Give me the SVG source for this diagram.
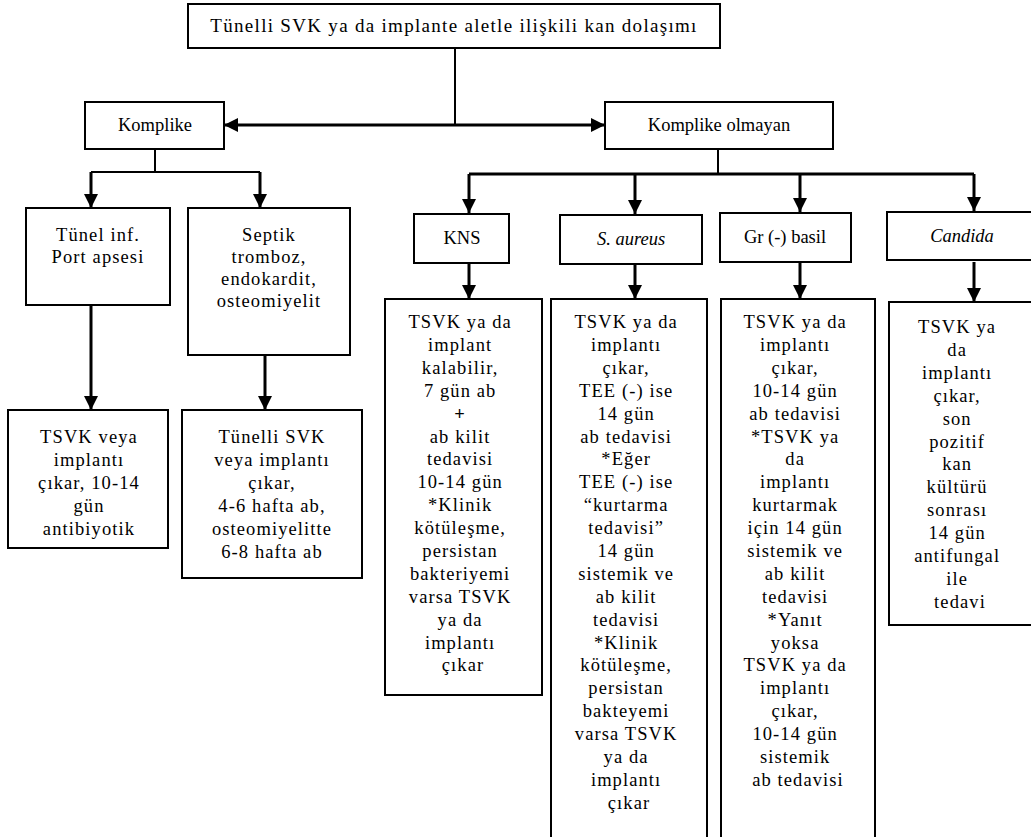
<svg xmlns="http://www.w3.org/2000/svg" width="1031" height="837" viewBox="0 0 1031 837">
<style>
.box{fill:#fff;stroke:#000;stroke-width:2}
.t{font-family:'Liberation Serif','DejaVu Serif',serif;font-size:18.5px;letter-spacing:1.1px;fill:#000;text-anchor:middle}
.ttl{font-family:'Liberation Serif','DejaVu Serif',serif;font-size:19px;letter-spacing:1.3px;fill:#000;text-anchor:middle}
.h{font-family:'Liberation Serif','DejaVu Serif',serif;font-size:18.5px;fill:#000;text-anchor:middle}
.ln{fill:none;stroke:#000;stroke-width:2}
.ar{fill:none;stroke:#000;stroke-width:3}
</style>
<defs>
<marker id="ah" markerUnits="userSpaceOnUse" markerWidth="16" markerHeight="16" refX="14" refY="7" orient="auto-start-reverse" viewBox="0 0 16 14">
<path d="M0,0 L14,7 L0,14 Z" fill="#000"/>
</marker>
</defs>
<g id="connectors">
<line class="ln" x1="455" y1="48" x2="455" y2="125"/>
<line class="ar" x1="224" y1="125" x2="605" y2="125" marker-start="url(#ah)" marker-end="url(#ah)"/>
<line class="ln" x1="155" y1="149" x2="155" y2="172"/>
<polyline class="ln" points="91,172 260,172"/>
<line class="ar" x1="91" y1="172" x2="91" y2="208" marker-end="url(#ah)"/>
<line class="ar" x1="260" y1="172" x2="260" y2="208" marker-end="url(#ah)"/>
<line class="ar" x1="91" y1="305" x2="91" y2="410" marker-end="url(#ah)"/>
<line class="ar" x1="265" y1="355" x2="265" y2="410" marker-end="url(#ah)"/>
<line class="ln" x1="718" y1="149" x2="718" y2="174"/>
<line class="ar" x1="469" y1="174" x2="974" y2="174"/>
<line class="ar" x1="469" y1="174" x2="469" y2="213" marker-end="url(#ah)"/>
<line class="ar" x1="635" y1="174" x2="635" y2="214" marker-end="url(#ah)"/>
<line class="ar" x1="800" y1="174" x2="800" y2="212" marker-end="url(#ah)"/>
<line class="ar" x1="974" y1="174" x2="974" y2="211" marker-end="url(#ah)"/>
<line class="ar" x1="469" y1="263" x2="469" y2="299" marker-end="url(#ah)"/>
<line class="ar" x1="635" y1="264" x2="635" y2="299" marker-end="url(#ah)"/>
<line class="ar" x1="800" y1="262" x2="800" y2="299" marker-end="url(#ah)"/>
<line class="ar" x1="974" y1="262" x2="974" y2="302" marker-end="url(#ah)"/>
</g>
<g id="title">
<rect class="box" x="188" y="4" width="532" height="44"/>
<text class="ttl" x="454" y="32">Tünelli SVK ya da implante aletle ilişkili kan dolaşımı</text>
</g>
<g id="komplike">
<rect class="box" x="85" y="102" width="139" height="47"/>
<text class="h" x="155" y="131">Komplike</text>
</g>
<g id="komplike-olmayan">
<rect class="box" x="605" y="102" width="228" height="47"/>
<text class="h" x="719" y="131">Komplike olmayan</text>
</g>
<g id="tunel">
<rect class="box" x="26" y="208" width="144" height="97"/>
<text class="t" x="98" y="241">Tünel inf.</text>
<text class="t" x="98" y="263">Port apsesi</text>
</g>
<g id="septik">
<rect class="box" x="188" y="208" width="162" height="147"/>
<text class="t" x="269" y="241">Septik</text>
<text class="t" x="269" y="263">tromboz,</text>
<text class="t" x="269" y="285">endokardit,</text>
<text class="t" x="269" y="307">osteomiyelit</text>
</g>
<g id="tsvk-veya">
<rect class="box" x="8" y="410" width="160" height="138"/>
<text class="t" x="89" y="443">TSVK veya</text>
<text class="t" x="89" y="466">implantı</text>
<text class="t" x="89" y="489">çıkar, 10-14</text>
<text class="t" x="89" y="512">gün</text>
<text class="t" x="89" y="535">antibiyotik</text>
</g>
<g id="tunelli-svk">
<rect class="box" x="182" y="410" width="180" height="168"/>
<text class="t" x="272" y="443">Tünelli SVK</text>
<text class="t" x="272" y="466">veya implantı</text>
<text class="t" x="272" y="489">çıkar,</text>
<text class="t" x="272" y="512">4-6 hafta ab,</text>
<text class="t" x="272" y="535">osteomiyelitte</text>
<text class="t" x="272" y="558">6-8 hafta ab</text>
</g>
<g id="kns">
<rect class="box" x="414" y="214" width="95" height="49"/>
<text class="h" x="462" y="244">KNS</text>
</g>
<g id="saureus">
<rect class="box" x="560" y="215" width="142" height="49"/>
<text class="h" x="631" y="245" font-style="italic">S. aureus</text>
</g>
<g id="grbasil">
<rect class="box" x="720" y="213" width="131" height="49"/>
<text class="h" x="785" y="243">Gr (-) basil</text>
</g>
<g id="candida">
<rect class="box" x="887" y="212" width="150" height="48"/>
<text class="h" x="962" y="242" font-style="italic">Candida</text>
</g>
<g id="kns-body">
<rect class="box" x="385" y="299" width="157" height="396"/>
<text class="t" x="463">
<tspan x="463" y="328">TSVK ya da</tspan>
<tspan x="463" dy="22.9">implant</tspan>
<tspan x="463" dy="22.9">kalabilir,</tspan>
<tspan x="463" dy="22.9">7 gün ab</tspan>
<tspan x="463" dy="22.9" font-weight="bold">+</tspan>
<tspan x="463" dy="22.9">ab kilit</tspan>
<tspan x="463" dy="22.9">tedavisi</tspan>
<tspan x="463" dy="22.9">10-14 gün</tspan>
<tspan x="463" dy="22.9">*Klinik</tspan>
<tspan x="463" dy="22.9">kötüleşme,</tspan>
<tspan x="463" dy="22.9">persistan</tspan>
<tspan x="463" dy="22.9">bakteriyemi</tspan>
<tspan x="463" dy="22.9">varsa TSVK</tspan>
<tspan x="463" dy="22.9">ya da</tspan>
<tspan x="463" dy="22.9">implantı</tspan>
<tspan x="463" dy="22.9">çıkar</tspan>
</text>
</g>
<g id="saureus-body">
<path class="box" d="M551,840 V299 H707 V840"/>
<text class="t" x="629">
<tspan x="629" y="328">TSVK ya da</tspan>
<tspan x="629" dy="22.9">implantı</tspan>
<tspan x="629" dy="22.9">çıkar,</tspan>
<tspan x="629" dy="22.9">TEE (-) ise</tspan>
<tspan x="629" dy="22.9">14 gün</tspan>
<tspan x="629" dy="22.9">ab tedavisi</tspan>
<tspan x="629" dy="22.9">*Eğer</tspan>
<tspan x="629" dy="22.9">TEE (-) ise</tspan>
<tspan x="629" dy="22.9">“kurtarma</tspan>
<tspan x="629" dy="22.9">tedavisi”</tspan>
<tspan x="629" dy="22.9">14 gün</tspan>
<tspan x="629" dy="22.9">sistemik ve</tspan>
<tspan x="629" dy="22.9">ab kilit</tspan>
<tspan x="629" dy="22.9">tedavisi</tspan>
<tspan x="629" dy="22.9">*Klinik</tspan>
<tspan x="629" dy="22.9">kötüleşme,</tspan>
<tspan x="629" dy="22.9">persistan</tspan>
<tspan x="629" dy="22.9">bakteyemi</tspan>
<tspan x="629" dy="22.9">varsa TSVK</tspan>
<tspan x="629" dy="22.9">ya da</tspan>
<tspan x="629" dy="22.9">implantı</tspan>
<tspan x="629" dy="22.9">çıkar</tspan>
</text>
</g>
<g id="grbasil-body">
<path class="box" d="M721,840 V299 H875 V840"/>
<text class="t" x="798">
<tspan x="798" y="328">TSVK ya da</tspan>
<tspan x="798" dy="22.9">implantı</tspan>
<tspan x="798" dy="22.9">çıkar,</tspan>
<tspan x="798" dy="22.9">10-14 gün</tspan>
<tspan x="798" dy="22.9">ab tedavisi</tspan>
<tspan x="798" dy="22.9">*TSVK ya</tspan>
<tspan x="798" dy="22.9">da</tspan>
<tspan x="798" dy="22.9">implantı</tspan>
<tspan x="798" dy="22.9">kurtarmak</tspan>
<tspan x="798" dy="22.9">için 14 gün</tspan>
<tspan x="798" dy="22.9">sistemik ve</tspan>
<tspan x="798" dy="22.9">ab kilit</tspan>
<tspan x="798" dy="22.9">tedavisi</tspan>
<tspan x="798" dy="22.9">*Yanıt</tspan>
<tspan x="798" dy="22.9">yoksa</tspan>
<tspan x="798" dy="22.9">TSVK ya da</tspan>
<tspan x="798" dy="22.9">implantı</tspan>
<tspan x="798" dy="22.9">çıkar,</tspan>
<tspan x="798" dy="22.9">10-14 gün</tspan>
<tspan x="798" dy="22.9">sistemik</tspan>
<tspan x="798" dy="22.9">ab tedavisi</tspan>
</text>
</g>
<g id="candida-body">
<rect class="box" x="889" y="302" width="148" height="323"/>
<text class="t" x="960">
<tspan x="960" y="333">TSVK ya</tspan>
<tspan x="960" dy="22.9">da</tspan>
<tspan x="960" dy="22.9">implantı</tspan>
<tspan x="960" dy="22.9">çıkar,</tspan>
<tspan x="960" dy="22.9">son</tspan>
<tspan x="960" dy="22.9">pozitif</tspan>
<tspan x="960" dy="22.9">kan</tspan>
<tspan x="960" dy="22.9">kültürü</tspan>
<tspan x="960" dy="22.9">sonrası</tspan>
<tspan x="960" dy="22.9">14 gün</tspan>
<tspan x="960" dy="22.9">antifungal</tspan>
<tspan x="960" dy="22.9">ile</tspan>
<tspan x="960" dy="22.9">tedavi</tspan>
</text>
</g>
</svg>
